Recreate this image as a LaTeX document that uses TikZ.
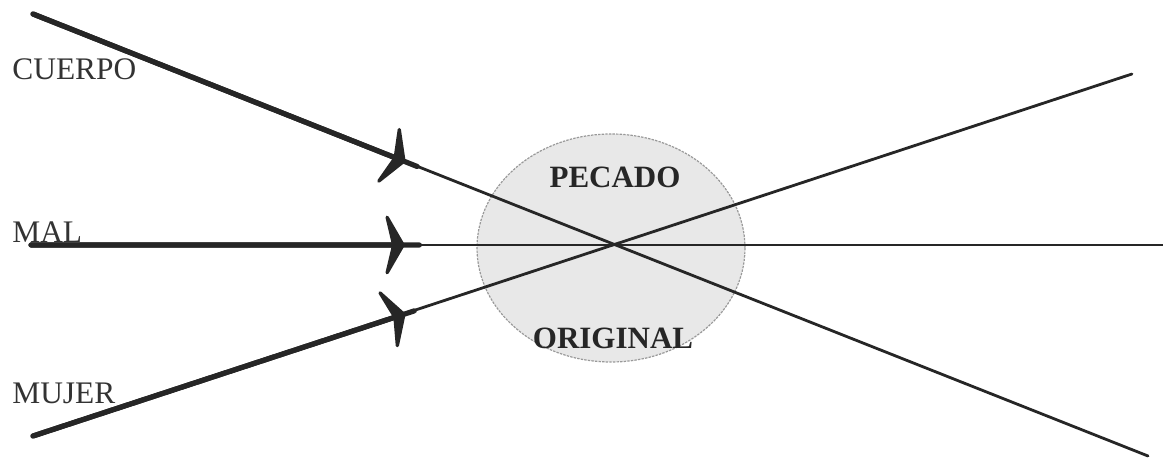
\documentclass[tikz,border=0pt]{standalone}
\usepackage{fontspec}
\setmainfont{Liberation Serif}
\usetikzlibrary{arrows.meta,calc}
\tikzset{
  thickline/.style={line width=2.6pt, line cap=round, black!85},
  thinline/.style={line width=1.4pt, line cap=round, black!85},
  arrowtip/.style={-{Stealth[length=11pt,width=38pt,inset=4.5pt,round]}},
  lbl/.style={font=\fontsize{15.7}{17}\selectfont, text=black!80, inner sep=0pt, anchor=base west},
  blbl/.style={font=\fontsize{15.5}{17}\selectfont\bfseries, text=black!85, inner sep=0pt, anchor=base},
  blob/.style={fill=gray!18},
  blobedge/.style={draw=gray!80, line width=0.6pt, dash pattern=on 1.2pt off 0.6pt}
}
\begin{document}
\begin{tikzpicture}[x=0.5pt,y=-0.5pt]
\useasboundingbox (0,0) rectangle (1163,458);
% circle
\fill[blob] (611,248) ellipse [x radius=134, y radius=114];
\draw[blobedge] (611,248) ellipse [x radius=134, y radius=114];
% coordinates
\coordinate (C0) at (33,14);
\coordinate (C1) at (1148,456);
\coordinate (M0) at (31,245);
\coordinate (M1) at (1163,245);
\coordinate (W0) at (33,436);
\coordinate (W1) at (1132,74);
\coordinate (X) at (615,245);
\coordinate (Ca) at ($(C0)!0.64!(X)$);
\coordinate (Ma) at ($(M0)!0.64!(X)$);
\coordinate (Wa) at ($(W0)!0.64!(X)$);
\coordinate (Cb) at ($(C0)!0.66!(X)$);
\coordinate (Mb) at ($(M0)!0.665!(X)$);
\coordinate (Wb) at ($(W0)!0.655!(X)$);
% thin lines
\draw[thinline] (C0) -- (C1);
\draw[thinline] (M0) -- (M1);
\draw[thinline] (W0) -- (W1);
% thick parts with arrows
\draw[thickline] (C0) -- (Cb);
\draw[thickline] (M0) -- (Mb);
\draw[thickline] (W0) -- (Wb);
\draw[thickline, arrowtip] (C0) -- (Ca);
\draw[thickline, arrowtip] (M0) -- (Ma);
\draw[thickline, arrowtip] (W0) -- (Wa);
% labels
\node[lbl] (cuerpo) at (12,80) {CUERPO};
\node[lbl] (mal) at (12,243) {MAL};
\node[lbl] (mujer) at (12,404) {MUJER};
\node[blbl] (pecado) at (615,188) {PECADO};
\node[blbl] (original) at (613,349) {ORIGINAL};
\end{tikzpicture}
\end{document}
